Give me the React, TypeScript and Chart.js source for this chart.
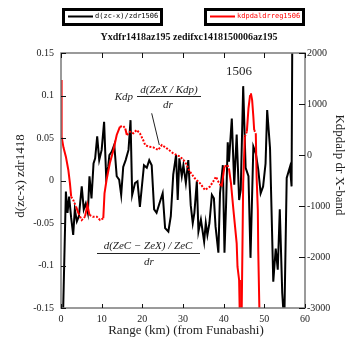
import { useEffect, useRef } from "react";
import { Chart, registerables } from "chart.js";

Chart.register(...registerables);

const xTicks = [0, 10, 20, 30, 40, 50, 60];
const leftTicks = [-0.15, -0.1, -0.05, 0, 0.05, 0.1, 0.15];
const leftTickLabels = ["-0.15", "-0.1", "-0.05", "0", "0.05", "0.1", "0.15"];
const rightTicks = [-3000, -2000, -1000, 0, 1000, 2000];
const rightTickLabels = ["-3000", "-2000", "-1000", "0", "1000", "2000"];

const chartTitle = "Yxdfr1418az195 zedifxc1418150006az195";
const xTitle = "Range (km) (from Funabashi)";
const leftTitle = "d(zc-x) zdr1418";
const rightTitle = "Kdpdalp dr X-band";
const blackName = "d(zc-x)/zdr1506";
const redName = "kdpdaldrreg1506";
const tagLabel = "1506";

const blackKm = [
  0.3, 1.2, 1.6, 2.0, 2.5, 3.0, 3.4, 3.9, 4.4, 5.1, 5.6, 6.1, 6.6, 7.0, 7.5, 8.0, 8.4, 8.9, 9.4, 10.0,
  10.6, 11.1, 11.6, 11.9, 12.5, 13.1, 13.7, 14.3, 14.8, 15.3, 15.9, 16.6, 17.1, 17.5, 18.2, 18.8, 19.4, 20.4, 21.1, 21.7,
  22.3, 22.9, 23.5, 24.2, 25.0, 25.6, 26.4, 27.0, 27.6, 28.3, 28.7, 29.1, 29.7, 30.1, 30.7, 31.3, 31.9, 32.4, 32.8, 33.4,
  33.8, 34.4, 35.2, 35.6, 36.0, 36.5, 37.1, 37.6, 38.0, 38.7, 39.1, 39.8, 40.2, 40.6, 41.0, 41.3, 42.0, 42.6, 43.2, 43.8,
  44.2, 44.8, 45.4, 46.1, 46.6, 47.3, 47.9, 48.5, 49.1, 49.7, 50.3, 50.7, 51.4, 52.2, 52.8, 53.3, 53.8, 54.4, 54.9, 55.5,
  56.3, 56.7, 57.1,
];
const blackVal = [
  -0.2, -0.013, -0.038, -0.019, -0.044, -0.064, -0.034, -0.048, -0.042, -0.007, -0.034, -0.027, -0.038, 0.005, -0.021, 0.02, 0.026, 0.052, 0.024, 0.036,
  0.069, 0.005, 0.016, 0.03, 0.034, 0.042, 0.005, 0.001, -0.017, 0.016, 0.024, 0.036, 0.071, -0.017, -0.003, -0.001, -0.031, 0.018, 0.015, 0.024,
  0.018, -0.034, -0.038, -0.027, -0.015, -0.056, -0.06, -0.042, 0.007, 0.03, -0.023, 0.026, 0.005, 0.018, -0.003, 0.024, -0.029, -0.05, -0.038, -0.001,
  -0.06, -0.046, -0.072, -0.05, -0.064, -0.05, -0.017, -0.021, -0.054, -0.085, -0.015, 0.018, -0.085, -0.027, 0.045, 0.022, 0.073, -0.005, 0.054, -0.023,
  -0.011, 0.111, 0.015, 0.005, -0.091, 0.04, 0.032, 0.013, -0.015, -0.007, 0.02, 0.083, 0.038, -0.119, -0.08, -0.105, -0.034, -0.132, -0.17, 0.003,
  0.016, -0.007, 0.4,
];

const redKm = [
  0, 0.1, 0.2, 0.6, 1.2, 1.8, 2.2, 2.5, 3.0, 3.7, 4.3, 5.1, 5.9, 6.5, 7.0, 7.8, 8.8, 9.6, 10.4, 10.7,
  11.2, 12.0, 12.9, 13.7, 14.5, 15.3, 15.8, 16.2, 17.0, 17.8, 18.6, 19.4, 20.2, 20.7, 21.5, 22.7, 23.9, 24.8, 26.0, 27.6,
  29.3, 30.5, 31.7, 32.9, 34.2, 35.4, 36.6, 37.4, 38.1, 38.7, 39.5, 40.2, 40.9, 41.3, 41.8, 42.4, 42.8, 43.2, 43.4, 43.8,
  44.0, 44.4, 44.8, 45.2, 45.7, 46.1, 46.5, 46.7, 47.0, 47.3, 47.5, 47.9, 48.1, 48.4, 48.5, 48.9,
];
const redVal = [
  1470, 1000, 360, 150, -33, -294, -555, -817, -882, -1013, -1143, -1275, -1209, -980, -1176, -1209, -1209, -1275, -1241, -751,
  -490, -163, 98, 392, 555, 568, 520, 392, 457, 425, 490, 425, 294, 196, 163, 150, 98, 196, 131, 33,
  -33, -131, -327, -457, -555, -686, -621, -523, -425, -523, -621, -229, -196, -261, -555, -1078, -1405, -1732, -2190, -2451,
  -3300, -3300, -555, 359, 457, 915, 1176, 1209, 1078, 751, 490, 425, -425, -1078, -1863, -3500,
];

const SERIF = '"Liberation Serif", "Times New Roman", serif';
const MONO = '"DejaVu Sans Mono", "Liberation Mono", monospace';

export default function App() {
  const ref = useRef<HTMLCanvasElement>(null);

  useEffect(() => {
    if (!ref.current) return;

    const decor = {
      id: "decor",
      afterDraw(chart: any) {
        const ctx = chart.ctx as CanvasRenderingContext2D;
        const ca = chart.chartArea;
        const xs = chart.scales.x;
        const ys = chart.scales.y;
        const y2 = chart.scales.y2;
        ctx.save();

        // frame
        ctx.strokeStyle = "#7a7a7a";
        ctx.lineWidth = 1.5;
        ctx.strokeRect(ca.left, ca.top, ca.right - ca.left, ca.bottom - ca.top);

        // inward ticks
        ctx.strokeStyle = "#111";
        ctx.lineWidth = 1;
        ctx.beginPath();
        for (const v of xTicks) {
          const px = Math.round(xs.getPixelForValue(v)) + 0.5;
          ctx.moveTo(px, ca.bottom);
          ctx.lineTo(px, ca.bottom - 4);
          ctx.moveTo(px, ca.top);
          ctx.lineTo(px, ca.top + 5);
        }
        for (const v of leftTicks) {
          const py = Math.round(ys.getPixelForValue(v)) + 0.5;
          ctx.moveTo(ca.left, py);
          ctx.lineTo(ca.left + 5, py);
        }
        for (const v of rightTicks) {
          const py = Math.round(y2.getPixelForValue(v)) + 0.5;
          ctx.moveTo(ca.right, py);
          ctx.lineTo(ca.right - 6, py);
        }
        ctx.stroke();

        // axis titles
        ctx.fillStyle = "#222";
        ctx.font = `13px ${SERIF}`;
        ctx.textAlign = "center";
        ctx.textBaseline = "middle";
        ctx.fillText(xTitle, (ca.left + ca.right) / 2 + 3, 331);
        ctx.save();
        ctx.translate(21, 176);
        ctx.rotate(-Math.PI / 2);
        ctx.fillText(leftTitle, 0, 0);
        ctx.restore();
        ctx.save();
        ctx.translate(339, 165);
        ctx.rotate(Math.PI / 2);
        ctx.fillText(rightTitle, 0, 0);
        ctx.restore();

        // chart title
        ctx.font = `bold 10px ${SERIF}`;
        ctx.fillStyle = "#111";
        ctx.fillText(chartTitle, 189, 37);

        // legend boxes
        const drawLegend = (x0: number, x1: number, color: string, label: string) => {
          ctx.fillStyle = "#fff";
          ctx.fillRect(x0, 8, x1 - x0, 18);
          ctx.strokeStyle = "#000";
          ctx.lineWidth = 3;
          ctx.strokeRect(x0 + 1.5, 9.5, x1 - x0 - 3, 15);
          ctx.strokeStyle = color;
          ctx.lineWidth = 2;
          ctx.beginPath();
          ctx.moveTo(x0 + 6, 16.5);
          ctx.lineTo(x0 + 31, 16.5);
          ctx.stroke();
          ctx.fillStyle = color;
          ctx.font = `7px ${MONO}`;
          ctx.textAlign = "left";
          ctx.textBaseline = "middle";
          ctx.fillText(label, x0 + 33, 16.5);
        };
        drawLegend(62, 163, "#000", blackName);
        drawLegend(204, 305, "#ff0000", redName);

        // annotations
        ctx.fillStyle = "#222";
        ctx.textAlign = "center";
        ctx.textBaseline = "middle";
        ctx.font = `13px ${SERIF}`;
        ctx.fillText(tagLabel, xs.getPixelForValue(43.8), ys.getPixelForValue(0.128));

        ctx.font = `italic 11px ${SERIF}`;
        ctx.textAlign = "right";
        ctx.fillText("Kdp", 133, 97);
        ctx.textAlign = "center";
        ctx.fillText("d(ZeX / Kdp)", 169, 90);
        ctx.fillText("dr", 168, 105);
        ctx.fillText("d(ZeC \u2212 ZeX) / ZeC", 148, 246);
        ctx.fillText("dr", 149, 262);
        ctx.strokeStyle = "#222";
        ctx.lineWidth = 1;
        ctx.beginPath();
        ctx.moveTo(137, 96.5);
        ctx.lineTo(201, 96.5);
        ctx.moveTo(97, 253.5);
        ctx.lineTo(200, 253.5);
        ctx.moveTo(151.7, 113.3);
        ctx.lineTo(159.3, 145);
        ctx.stroke();

        ctx.restore();
      },
    };

    const tickFont = { family: SERIF, size: 10 };

    const chart = new Chart(ref.current, {
      type: "line",
      data: {
        datasets: [
          {
            label: redName,
            data: redKm.map((k, i) => ({ x: k, y: redVal[i] })),
            yAxisID: "y2",
            borderColor: "#ff0000",
            backgroundColor: "#ff0000",
            borderWidth: 2,
            pointRadius: 0,
            tension: 0,
            order: 0,
            clip: 0,
            segment: {
              borderDash: (c: any) => {
                const dx = Math.abs(c.p1.x - c.p0.x);
                const dy = Math.abs(c.p1.y - c.p0.y);
                return dy > 2.5 * dx ? [] : [2, 1.5];
              },
            },
          } as any,
          {
            label: blackName,
            data: blackKm.map((k, i) => ({ x: k, y: blackVal[i] })),
            yAxisID: "y",
            borderColor: "#000",
            backgroundColor: "#000",
            borderWidth: 2,
            pointRadius: 0,
            tension: 0,
            order: 1,
            clip: 0,
          },
        ],
      },
      options: {
        responsive: false,
        animation: false,
        devicePixelRatio: 1,
        layout: { padding: { top: 53, left: 0, right: 0, bottom: 0 } },
        plugins: { legend: { display: false }, title: { display: false }, tooltip: { enabled: false } },
        scales: {
          x: {
            type: "linear",
            position: "bottom",
            min: 0,
            max: 60,
            afterBuildTicks: (s: any) => {
              s.ticks = xTicks.map((v) => ({ value: v }));
            },
            afterFit: (s: any) => {
              s.height = 38;
            },
            ticks: { padding: 5, font: tickFont, color: "#222", autoSkip: false, maxRotation: 0, callback: (v: any) => String(v) },
            grid: { display: false, drawTicks: false },
            border: { display: false },
          },
          y: {
            type: "linear",
            position: "left",
            min: -0.15,
            max: 0.15,
            afterBuildTicks: (s: any) => {
              s.ticks = leftTicks.map((v) => ({ value: v }));
            },
            afterFit: (s: any) => {
              s.width = 61;
            },
            ticks: {
              padding: 7,
              font: tickFont,
              color: "#222",
              autoSkip: false,
              callback: (v: any) => leftTickLabels[leftTicks.indexOf(v)] ?? String(v),
            },
            grid: { display: false, drawTicks: false },
            border: { display: false },
          },
          y2: {
            type: "linear",
            position: "right",
            min: -3000,
            max: 2000,
            afterBuildTicks: (s: any) => {
              s.ticks = rightTicks.map((v) => ({ value: v }));
            },
            afterFit: (s: any) => {
              s.width = 40;
            },
            ticks: {
              padding: 2,
              font: tickFont,
              color: "#222",
              autoSkip: false,
              callback: (v: any) => rightTickLabels[rightTicks.indexOf(v)] ?? String(v),
            },
            grid: { display: false, drawTicks: false },
            border: { display: false },
          },
        },
      },
      plugins: [decor],
    } as any);

    return () => chart.destroy();
  }, []);

  return (
    <div style={{ position: "fixed", left: 0, top: 0, width: 345, height: 346, background: "#fff" }}>
      <canvas ref={ref} width={345} height={346} style={{ display: "block", width: 345, height: 346 }} />
    </div>
  );
}
